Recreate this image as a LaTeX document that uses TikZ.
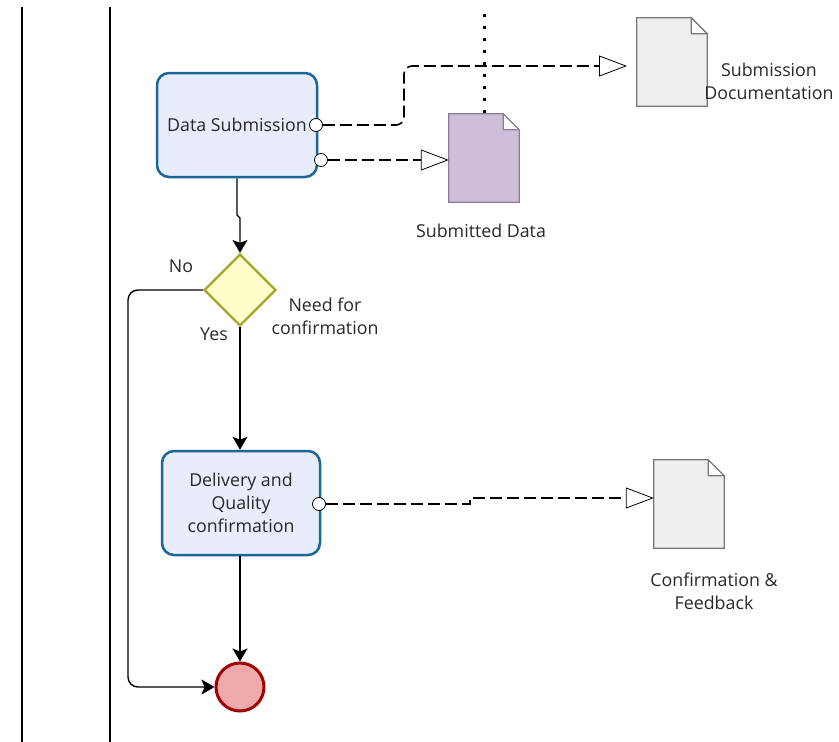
\documentclass[tikz,border=0pt]{standalone}
\usepackage{fontspec}
\setmainfont{Open Sans}
\usetikzlibrary{calc, arrows.meta, positioning, shapes.geometric}

\definecolor{taskblue}{RGB}{26,103,150}
\definecolor{taskfill}{RGB}{232,236,251}
\definecolor{gatefill}{RGB}{252,253,200}
\definecolor{gatedraw}{RGB}{165,165,42}
\definecolor{endfill}{RGB}{238,170,170}
\definecolor{enddraw}{RGB}{160,0,0}
\definecolor{docfill}{RGB}{239,239,239}
\definecolor{docdraw}{RGB}{120,120,120}
\definecolor{datafill}{RGB}{205,191,217}
\definecolor{datadraw}{RGB}{140,124,156}
\definecolor{txt}{RGB}{40,40,40}

\tikzset{
  task/.style={draw=taskblue, fill=taskfill, line width=2.5pt, rounded corners=12pt,
    minimum width=#1, minimum height=104pt, align=center, text=txt, inner sep=0pt},
  gateway/.style={diamond, draw=gatedraw, fill=gatefill, line width=2.2pt,
    minimum width=72pt, minimum height=72pt, inner sep=0pt},
  endevent/.style={circle, draw=enddraw, fill=endfill, line width=3pt,
    minimum size=48pt, inner sep=0pt},
  port/.style={circle, draw=black, fill=white, line width=0.8pt, minimum size=13pt, inner sep=0pt},
  docbox/.style={minimum width=70pt, minimum height=88pt, inner sep=0pt},
  lbl/.style={text=txt, align=center},
  flow/.style={line width=1.4pt, -{Stealth[length=13pt, width=15pt, inset=3pt]}},
  assoc/.style={line width=1.6pt, dash pattern=on 12pt off 5pt,
    -{Triangle[length=28pt, width=21pt, fill=white, line width=0.8pt]}},
}

\newcommand{\docshape}[3]{%
  \draw[fill=#2, draw=#3, line width=1.2pt] (#1.north west) -- ($(#1.north east)+(-16,0)$)
    -- ($(#1.north east)+(0,16)$) -- (#1.south east) -- (#1.south west) -- cycle;
  \draw[fill=white, draw=#3, line width=1.2pt] ($(#1.north east)+(-16,0)$)
    -- ($(#1.north east)+(-16,16)$) -- ($(#1.north east)+(0,16)$) -- cycle;
}

\begin{document}
\begin{tikzpicture}[x=1pt, y=-1pt, font=\fontsize{17.8}{23}\selectfont]
\useasboundingbox (0,0) rectangle (839,742);

% lane lines
\foreach \v in {22,110}
{
    \draw[line width=1.4pt] (\v,7) -- (\v,742);
}

% tasks
\node[task=160pt] (submit) at (237,125) {Data Submission};
\node[task=158pt] (deliver) at (241,503) {Delivery and\\Quality\\confirmation};
\node[gateway] (need) at (240,290) {};
\node[endevent] (done) at (240,687) {};

% data objects
\node[docbox] (subdoc) at (672,62) {};
\node[docbox] (subdata) at (484,158) {};
\node[docbox] (feedback) at (689,504) {};
\docshape{subdoc}{docfill}{docdraw}
\docshape{subdata}{datafill}{datadraw}
\docshape{feedback}{docfill}{docdraw}

% labels
\node[lbl] (subdoclbl) at (769,81) {Submission\\Documentation};
\node[lbl] (subdatalbl) at (481,231) {Submitted Data};
\node[lbl] (needlbl) at (325,316) {Need for\\confirmation};
\node[lbl] (feedbacklbl) at (714,591) {Confirmation \&\\Feedback};
\node[lbl] (nolbl) at (181,266) {No};
\node[lbl] (yeslbl) at (214,334) {Yes};

% ports
\node[port] (p1) at (316,125) {};
\node[port] (p2) at (321,160) {};
\node[port] (p3) at (319,504) {};

% associations
\coordinate (subdocin) at (627,66);
\draw[assoc, rounded corners=8pt] (p1.east) -- (404,125) -- (404,66) -- (subdocin);
\draw[assoc] (p2.east) -- (subdata.west |- p2.east);
\draw[assoc] (p3.east) -- (470,504) -- (470,498) -- (feedback.west |- 0,498);
\draw[line width=3pt, dash pattern=on 3pt off 9pt] (484,14) -- (subdata.north);

% sequence flows
\draw[flow] (submit.south) -- (237,215) -- (240,218) -- (need.north);
\draw[flow] (need.south) -- (deliver.north -| need.south);
\draw[flow] (deliver.south -| done.north) -- (done.north);
\draw[flow, rounded corners=10pt] (need.west) -- (128,290) -- (128,687) -- (done.west);
\end{tikzpicture}
\end{document}
